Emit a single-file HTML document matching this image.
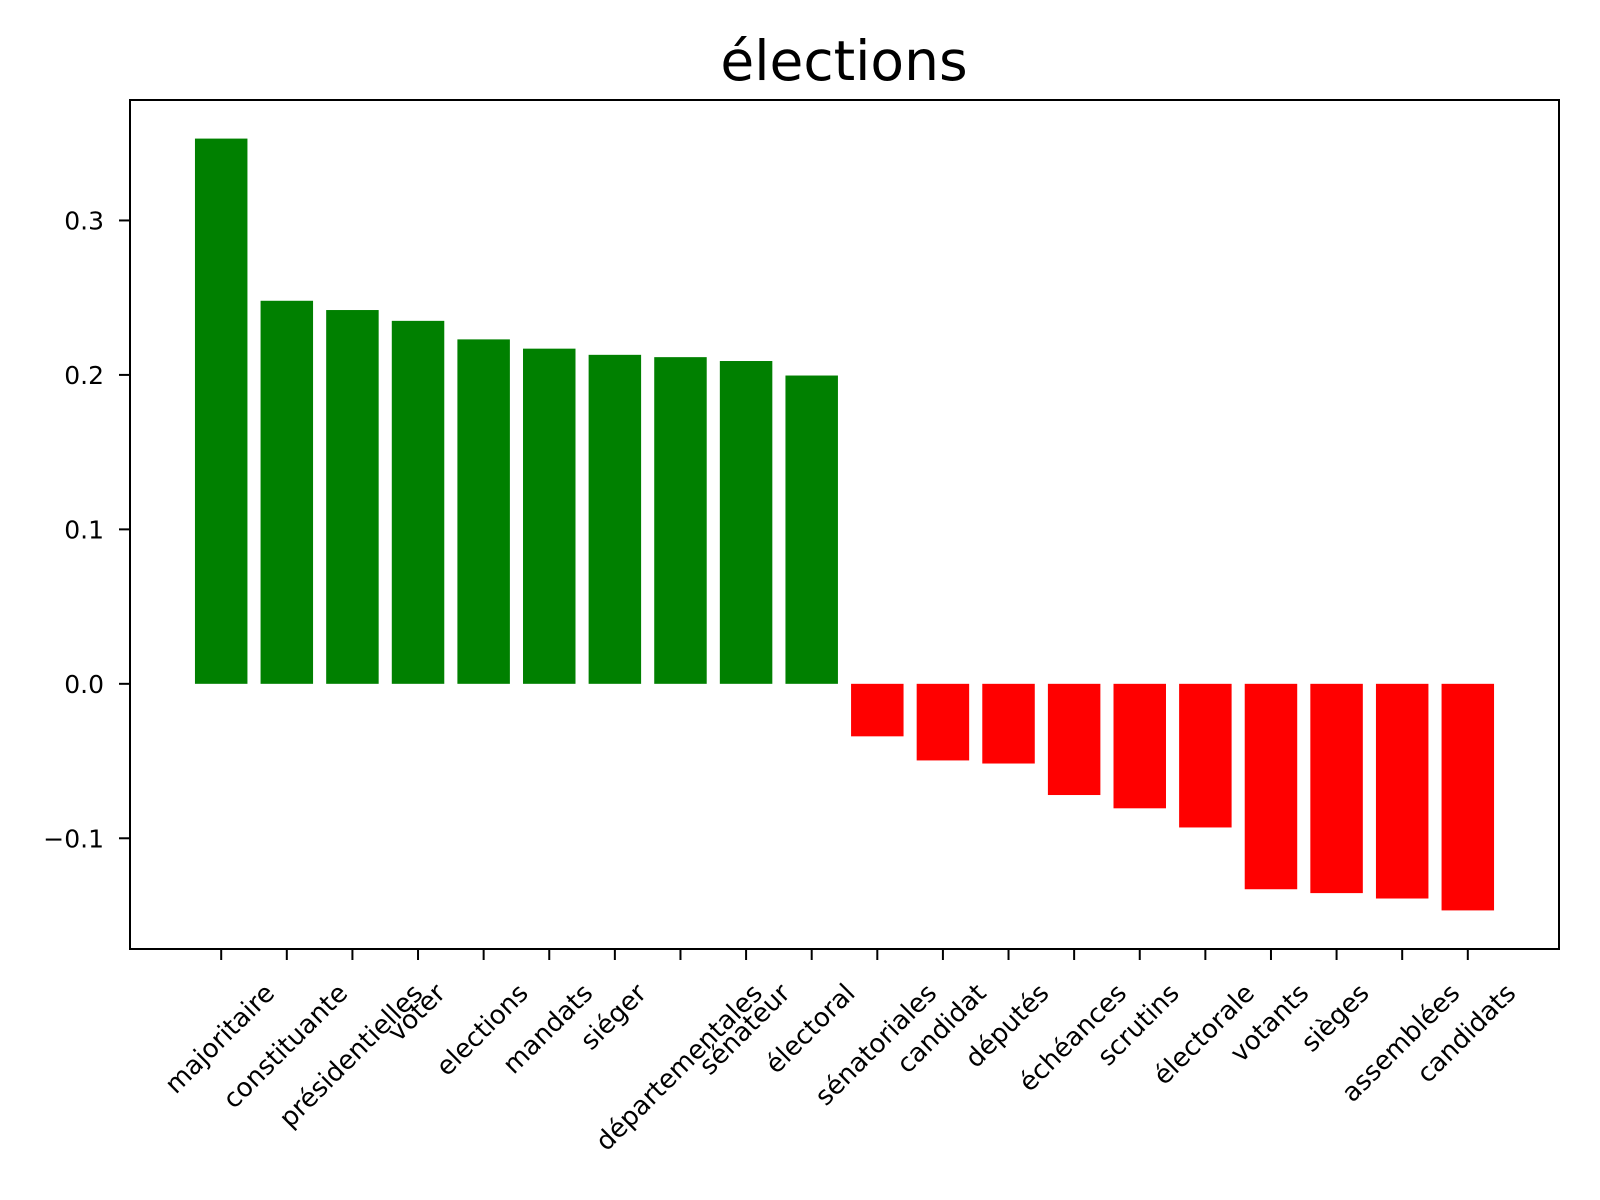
<!DOCTYPE html>
<html><head><meta charset="utf-8"><style>
html,body{margin:0;padding:0;background:#fff;overflow:hidden;width:1600px;height:1200px}
svg{display:block}
svg text{font-family:"DejaVu Sans","Liberation Sans",sans-serif}
</style></head><body>
<svg id="c" width="1600" height="1200" xmlns="http://www.w3.org/2000/svg">
<rect width="1600" height="1200" fill="#fff"/>
<text x="844" y="80" font-size="55" text-anchor="middle">élections</text>
<g id="bars"></g><g id="xt"></g><g id="yt"></g>
<rect x="130" y="100" width="1429" height="849" fill="none" stroke="#000" stroke-width="2"/>
</svg>
<script>
const categories=["majoritaire","constituante","présidentielles","voter","elections","mandats","siéger","départementales","sénateur","électoral","sénatoriales","candidat","députés","échéances","scrutins","électorale","votants","sièges","assemblées","candidats"];
const values=[0.353,0.248,0.242,0.235,0.223,0.217,0.213,0.2115,0.209,0.1996,-0.034,-0.0496,-0.0516,-0.072,-0.0806,-0.093,-0.133,-0.1355,-0.139,-0.1467];
const yTicks=[-0.1,0.0,0.1,0.2,0.3];
const yTickLabels=["−0.1","0.0","0.1","0.2","0.3"];
const NS="http://www.w3.org/2000/svg";
const L=130,R=1559,T=100,B=949;
const n=categories.length;
const vmin=Math.min(0,...values),vmax=Math.max(0,...values),pad=(vmax-vmin)*0.05;
const y0=vmin-pad,y1=vmax+pad;
const x0=-0.4-(n-0.2)*0.05,x1=n-1+0.4+(n-0.2)*0.05;
const sx=v=>L+(v-x0)/(x1-x0)*(R-L);
const sy=v=>B-(v-y0)/(y1-y0)*(B-T);
const bars=document.getElementById('bars'),xt=document.getElementById('xt'),yt=document.getElementById('yt');
values.forEach((v,i)=>{
  const r=document.createElementNS(NS,'rect');
  
  
  const a=sx(i-0.4),b=sx(i+0.4);
  r.setAttribute('x',a);r.setAttribute('width',b-a);
  r.setAttribute('y',Math.min(sy(v),sy(0)));r.setAttribute('height',Math.abs(sy(v)-sy(0)));
  r.setAttribute('fill',v>=0?'#008000':'#ff0000');
  bars.appendChild(r);
  const cx=sx(i);
  const tk=document.createElementNS(NS,'line');
  
  
  tk.setAttribute('x1',cx);tk.setAttribute('x2',cx);tk.setAttribute('y1',B);tk.setAttribute('y2',B+11);
  tk.setAttribute('stroke','#000');tk.setAttribute('stroke-width','2');
  xt.appendChild(tk);
  const t=document.createElementNS(NS,'text');
  
  
  t.setAttribute('font-size','26');t.setAttribute('text-anchor','middle');t.setAttribute('dominant-baseline','central');
  t.textContent=categories[i];
  xt.appendChild(t);
  const len=t.getComputedTextLength();
  const cy=B+40+len*0.354;
  t.setAttribute('transform',`translate(${cx-1},${cy}) rotate(-45)`);
});
yTicks.forEach((v,i)=>{
  const y=sy(v);
  const tk=document.createElementNS(NS,'line');
  
  
  tk.setAttribute('x1',L-11);tk.setAttribute('x2',L);tk.setAttribute('y1',y);tk.setAttribute('y2',y);
  tk.setAttribute('stroke','#000');tk.setAttribute('stroke-width','2');
  yt.appendChild(tk);
  const t=document.createElementNS(NS,'text');
  
  
  t.setAttribute('x',L-26);t.setAttribute('y',y+9);t.setAttribute('font-size','25');t.setAttribute('text-anchor','end');
  t.textContent=yTickLabels[i];
  yt.appendChild(t);
});
</script>
</body></html>
